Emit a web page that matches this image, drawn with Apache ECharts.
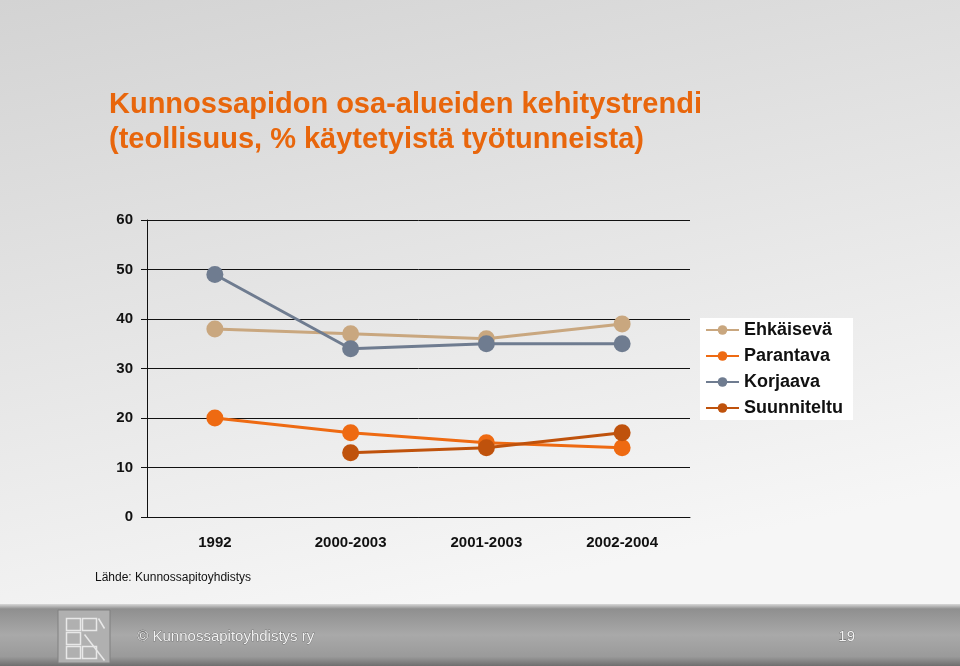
<!DOCTYPE html>
<html>
<head>
<meta charset="utf-8">
<script src="https://cdn.jsdelivr.net/npm/echarts@6/dist/echarts.min.js"></script>
<style>html,body{margin:0;padding:0;}#c{width:960px;height:666px;}</style>
</head>
<body>
<div id="c"></div>
<script>
const categories = ['1992', '2000-2003', '2001-2003', '2002-2004'];
const seriesNames = ['Ehkäisevä', 'Parantava', 'Korjaava', 'Suunniteltu'];
const ehkaiseva = [38, 37, 36, 39];
const parantava = [20, 17, 15, 14];
const korjaava = [49, 34, 35, 35];
const suunniteltu = [null, 13, 14, 17];
const yTicks = [0, 10, 20, 30, 40, 50, 60];
const colors = ['#C9A77F', '#EE6A12', '#6F7C90', '#BF520C'];

const titleLines = ['Kunnossapidon osa-alueiden kehitystrendi', '(teollisuus, % käytetyistä työtunneista)'];
const sourceText = 'Lähde: Kunnossapitoyhdistys';
const footerText = '© Kunnossapitoyhdistys ry';
const pageNumber = '19';

const chart = echarts.init(document.getElementById('c'));
const values = [ehkaiseva, parantava, korjaava, suunniteltu];

chart.setOption({
  backgroundColor: {
    type: 'linear', x: 0, y: 0, x2: 0.15, y2: 1,
    colorStops: [{offset: 0, color: '#d3d3d3'}, {offset: 1, color: '#f6f6f6'}]
  },
  textStyle: {fontFamily: 'Liberation Sans, Arial, sans-serif'},
  title: [
    {text: titleLines.join('\n'), left: 104, top: 82,
     textStyle: {color: '#E8660C', fontSize: 29, fontWeight: 'bold', lineHeight: 35, fontFamily: 'Liberation Sans, Arial, sans-serif'}}
  ],
  grid: {left: 147, right: 270, top: 220, bottom: 149},
  legend: {
    orient: 'vertical', left: 700, top: 318,
    backgroundColor: '#ffffff', padding: [3, 10, 3, 5],
    itemGap: 8, itemWidth: 33, itemHeight: 12,
    textStyle: {fontSize: 18, fontWeight: 'bold', color: '#111', fontFamily: 'Liberation Sans, Arial, sans-serif'},
    data: seriesNames
  },
  xAxis: {
    type: 'category', data: categories, boundaryGap: true,
    axisLine: {show: true, lineStyle: {color: '#111', width: 1}},
    axisTick: {show: false},
    axisLabel: {color: '#111', fontSize: 15, fontWeight: 'bold', margin: 18}
  },
  yAxis: {
    type: 'value', min: 0, max: 60, interval: 10,
    axisLine: {show: true, lineStyle: {color: '#111', width: 1}},
    axisTick: {show: true, length: 6, lineStyle: {color: '#111'}},
    splitLine: {show: true, lineStyle: {color: '#111', width: 1}},
    axisLabel: {color: '#111', fontSize: 15, fontWeight: 'bold', margin: 14,
      formatter: v => yTicks.includes(v) ? String(v) : ''}
  },
  series: seriesNames.map((n, i) => ({
    name: n, type: 'line', data: values[i],
    symbol: 'circle', symbolSize: 17, connectNulls: false,
    lineStyle: {color: colors[i], width: 3},
    itemStyle: {color: colors[i]},
    emphasis: {disabled: true},
    animation: false
  })),
  graphic: [
    {type: 'text', left: 95, top: 572, style: {text: sourceText, fontSize: 12, fill: '#111', fontFamily: 'Liberation Sans, Arial, sans-serif'}},
    {type: 'rect', shape: {x: 0, y: 604, width: 960, height: 62},
     style: {fill: {type: 'linear', x: 0, y: 0, x2: 0, y2: 1,
       colorStops: [{offset: 0, color: '#d8d8d8'}, {offset: 0.08, color: '#8f8f8f'}, {offset: 0.5, color: '#a9a9a9'}, {offset: 0.85, color: '#9a9a9a'}, {offset: 1, color: '#6e6e6e'}]}}, silent: true},
    {type: 'rect', shape: {x: 58, y: 610, width: 52, height: 53},
     style: {fill: '#b0b0b0', stroke: '#808080', lineWidth: 1}, silent: true},
    {type: 'group', left: 64, top: 616, children: [
      {type: 'rect', shape: {x: 0, y: 0, width: 14, height: 12}, style: {fill: 'none', stroke: '#e8e8e8', lineWidth: 1.5}},
      {type: 'rect', shape: {x: 16, y: 0, width: 14, height: 12}, style: {fill: 'none', stroke: '#e8e8e8', lineWidth: 1.5}},
      {type: 'rect', shape: {x: 0, y: 14, width: 14, height: 12}, style: {fill: 'none', stroke: '#e8e8e8', lineWidth: 1.5}},
      {type: 'rect', shape: {x: 0, y: 28, width: 14, height: 12}, style: {fill: 'none', stroke: '#e8e8e8', lineWidth: 1.5}},
      {type: 'rect', shape: {x: 16, y: 28, width: 14, height: 12}, style: {fill: 'none', stroke: '#e8e8e8', lineWidth: 1.5}},
      {type: 'line', shape: {x1: 18, y1: 16, x2: 38, y2: 42}, style: {stroke: '#e8e8e8', lineWidth: 1.5}},
      {type: 'line', shape: {x1: 32, y1: 0, x2: 38, y2: 10}, style: {stroke: '#e8e8e8', lineWidth: 1.5}}
    ]},
    {type: 'text', left: 137, top: 629, style: {text: footerText, fontSize: 15, fill: '#f2f2f2', stroke: '#555', lineWidth: 0.6, fontFamily: 'Liberation Sans, Arial, sans-serif'}},
    {type: 'text', left: 838, top: 629, style: {text: pageNumber, fontSize: 15, fill: '#f2f2f2', stroke: '#555', lineWidth: 0.6, fontFamily: 'Liberation Sans, Arial, sans-serif'}}
  ]
});
</script>
</body>
</html>
